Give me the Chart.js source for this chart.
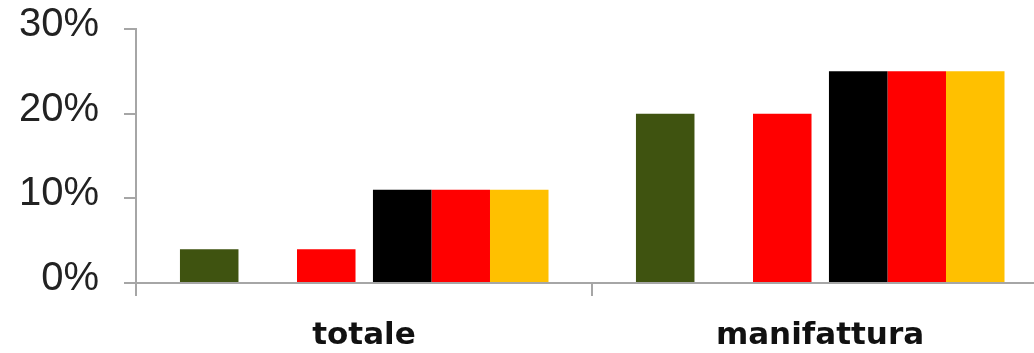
<!DOCTYPE html>
<html>
<head>
<meta charset="utf-8">
<script src="https://cdn.jsdelivr.net/npm/chart.js@4/dist/chart.umd.min.js"></script>
<style>
    html, body { margin: 0; padding: 0; background: #fff; overflow: hidden; }
    #wrap { position: relative; width: 1050px; height: 353px; }
</style>
</head>
<body>
<div id="wrap"><canvas id="flagChart"></canvas></div>
<script>
// categories and tick labels
const categories = ['totale', 'manifattura'];
const yTicks = [0, 10, 20, 30];

// Italia (verde, bianco, rosso)
const itGreen = [4, 20];
const itWhite = [4, 20];
const itRed = [4, 20];

// Germania (nero, rosso, oro)
const deBlack = [11, 25];
const deRed = [11, 25];
const deGold = [11, 25];

// sideways shift of each flag's hidden index axis, in categories
// (Chart.js lays the two axis groups out next to each other, so the shifts are not symmetric)
const IT_SHIFT = 0.0186;
const DE_SHIFT = -0.2763;
const AXIS_GREY = '#a6a6a6';

const toPoints = arr => arr.map((v, i) => ({ x: i, y: v }));

function barSet(label, values, color, axis) {
    return {
        label: label,
        data: toPoints(values),
        backgroundColor: color,
        borderWidth: 0,
        xAxisID: axis,
        yAxisID: 'y',
        categoryPercentage: 0.77,
        barPercentage: 1.0
    };
}

// hidden index axis, one per flag
const hiddenIndexAxis = shift => ({
    type: 'linear',
    display: false,
    offset: false,
    grid: { offset: false },
    min: -0.5 + shift,
    max: 1.5 + shift,
    afterBuildTicks: s => { s.ticks = categories.map((c, i) => ({ value: i })); }
});

new Chart(document.getElementById('flagChart'), {
    type: 'bar',
    data: {
        labels: categories,
        datasets: [
            barSet('IT verde', itGreen, '#3f5310', 'xi'),
            barSet('IT bianco', itWhite, '#ffffff', 'xi'),
            barSet('IT rosso', itRed, '#ff0000', 'xi'),
            barSet('DE nero', deBlack, '#000000', 'xg'),
            barSet('DE rosso', deRed, '#ff0000', 'xg'),
            barSet('DE oro', deGold, '#ffc000', 'xg')
        ]
    },
    options: {
        responsive: true,
        maintainAspectRatio: false,
        animation: false,
        layout: { padding: { left: 19, right: 2, top: 0, bottom: 0 } },
        plugins: { legend: { display: false }, tooltip: { enabled: false } },
        scales: {
            x: {
                type: 'category',
                offset: true,
                afterFit: s => { s.height = 70; },
                grid: { offset: true, drawOnChartArea: false, tickLength: 13, color: AXIS_GREY, lineWidth: 2 },
                border: { color: AXIS_GREY, width: 2 },
                ticks: {
                    color: '#111',
                    padding: 21,
                    font: { family: 'DejaVu Sans', size: 31, weight: 'bold' }
                }
            },
            xi: hiddenIndexAxis(IT_SHIFT),
            xg: hiddenIndexAxis(DE_SHIFT),
            y: {
                min: yTicks[0],
                max: yTicks[yTicks.length - 1],
                afterFit: s => { s.width = 117; s.paddingTop = 29; s.paddingBottom = 0; },
                afterBuildTicks: s => { s.ticks = yTicks.map(v => ({ value: v })); },
                grid: { drawOnChartArea: false, tickLength: 12, color: AXIS_GREY, lineWidth: 2 },
                border: { color: AXIS_GREY, width: 2 },
                ticks: {
                    color: '#222',
                    padding: 25,
                    labelOffset: -4,
                    font: { family: 'Liberation Sans', size: 40 },
                    callback: v => v + '%'
                }
            }
        }
    }
});
</script>
</body>
</html>
